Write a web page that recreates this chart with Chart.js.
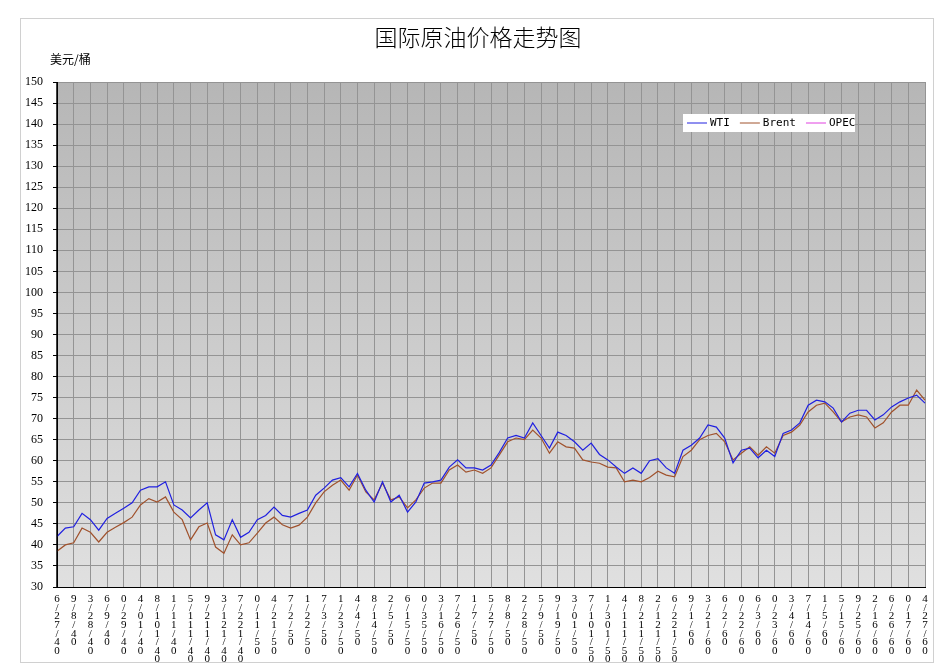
<!DOCTYPE html>
<html><head><meta charset="utf-8">
<script src="https://cdn.jsdelivr.net/npm/chart.js@4"></script>
<style>html,body{margin:0;padding:0;background:#fff}#w{width:950px;height:672px}</style>
</head><body><div id="w"><canvas id="c"></canvas></div>
<script>
const dateLabels = ["6/27/40","9/8/40","3/28/40","6/9/40","0/29/40","4/01/40","8/101/40","1/11/40","5/111/40","9/211/40","3/121/40","7/221/40","0/11/50","4/21/50","7/2/50","1/22/50","7/3/50","1/23/50","4/4/50","8/14/50","2/5/50","6/15/50","0/35/50","3/16/50","7/26/50","1/7/50","5/27/50","8/8/50","2/28/50","5/9/50","9/19/50","3/01/50","7/101/50","1/301/50","4/111/50","8/211/50","2/121/50","6/221/50","9/1/60","3/21/60","6/2/60","0/22/60","6/3/60","0/23/60","3/4/60","7/14/60","1/5/60","5/15/60","9/25/60","2/16/60","6/26/60","0/17/60","4/27/60"];
const wti = [42,44,44.3,47.5,46,43.5,46.3,47.5,48.7,50,53,53.8,53.8,55,49.5,48.3,46.4,48.3,50,42.4,41.2,46,41.8,43,46,47,49,47,46.6,47.5,48.3,51.8,53.5,55.4,56,53.8,57,53,50.2,55,50.2,51.8,47.8,50.2,54.7,55,55.4,58.5,60.2,58.3,58.3,57.8,59,62,65.4,66,65.4,69,66,63,66.8,66,64.5,62.5,64.2,61.5,60.2,58.5,57,58.3,57,60,60.5,58.3,57,62.5,63.7,65.4,68.5,68,65.4,59.5,62.5,63,60.7,62.5,61,66.5,67.3,69,73.2,74.4,74,72.5,69.2,71.3,72,72,69.7,70.9,72.8,74,74.9,75.6,73.7];
const brent = [38.5,40,40.5,44,43,40.7,43,44.2,45.3,46.6,49.5,51,50.2,51.4,47.8,46,41.2,44.3,45.2,39.5,38,42.4,40,40.5,42.8,45.2,46.6,44.8,44,44.7,46.6,50,52.6,54.2,55.4,53,56.6,52.6,50.7,54.7,50.7,51.4,48.8,50.7,53.5,54.7,54.7,57.8,59,57.3,57.8,57,58.3,61.4,64.5,65.4,65,67.3,65.4,61.8,64.5,63.3,63,60.2,59.7,59.4,58.5,58.3,55,55.4,55,56,57.5,56.6,56.2,61,62.5,65,66,66.5,64.5,60.2,61.8,63.3,61.3,63.3,61.8,66,66.8,68.5,71.6,73.2,73.7,71.6,69.2,70.4,70.9,70.4,67.8,69,71.6,73.2,73.2,76.8,74.4];
const opec = [];
const seriesNames = ["WTI","Brent","OPEC"];
const yMin = 30, yMax = 150, yStep = 5;
const titleText = "国际原油价格走势图";
const unitText = "美元/桶";

const labels = wti.map((_, i) => i % 2 === 0 ? dateLabels[i / 2] : "");

const deco = {
  id: 'deco',
  beforeDraw(ch) {
    const c = ch.ctx, a = ch.chartArea;
    c.save();
    c.fillStyle = '#fff'; c.fillRect(0, 0, ch.width, ch.height);
    c.strokeStyle = '#d0d0d0'; c.lineWidth = 1; c.strokeRect(20.5, 18.5, 913, 644);
    const g = c.createLinearGradient(0, a.top, 0, a.bottom);
    g.addColorStop(0, '#b6b6b6'); g.addColorStop(1, '#e0e0e0');
    c.fillStyle = g; c.fillRect(a.left, a.top, a.right - a.left, a.bottom - a.top);
    c.fillStyle = '#000'; c.textAlign = 'center'; c.textBaseline = 'middle';
    c.font = '300 23px "Noto Sans CJK SC"'; c.fillText(titleText, 478, 37);
    c.font = '12px "Noto Sans CJK SC"'; c.textAlign = 'left'; c.fillText(unitText, 50, 59);
    c.restore();
  },
  afterDraw(ch) {
    const c = ch.ctx, a = ch.chartArea;
    c.save();
    c.strokeStyle = '#000'; c.lineWidth = 1.5;
    c.beginPath(); c.moveTo(a.left, a.top); c.lineTo(a.left, a.bottom); c.stroke();
    c.fillStyle = '#fff'; c.fillRect(683, 114, 172, 18);
    c.font = '11px "DejaVu Sans Mono"'; c.textBaseline = 'middle'; c.textAlign = 'left';
    let x = 687;
    ch.data.datasets.forEach(d => {
      c.strokeStyle = d.borderColor; c.lineWidth = 1;
      c.beginPath(); c.moveTo(x, 123); c.lineTo(x + 20, 123); c.stroke();
      c.fillStyle = '#000'; c.fillText(d.label, x + 23, 123);
      x += 23 + c.measureText(d.label).width + 10;
    });
    c.restore();
  }
};

new Chart(document.getElementById('c'), {
  type: 'line',
  data: {
    labels,
    datasets: [
      { label: seriesNames[0], data: wti, borderColor: '#2020e0', borderWidth: 1.2, pointRadius: 0, tension: 0 },
      { label: seriesNames[1], data: brent, borderColor: '#a0522d', borderWidth: 1.2, pointRadius: 0, tension: 0 },
      { label: seriesNames[2], data: opec, borderColor: '#e040e0', borderWidth: 1.2, pointRadius: 0 }
    ]
  },
  options: {
    responsive: true, maintainAspectRatio: false, animation: false,
    layout: { padding: { left: 0, top: 82, right: 25, bottom: 0 } },
    plugins: { legend: { display: false }, tooltip: { enabled: false } },
    scales: {
      x: {
        offset: false,
        grid: { color: ctx => (ctx.index % 2 === 0 ? '#949494' : 'rgba(0,0,0,0)'), lineWidth: 1, drawTicks: false },
        border: { display: true, color: '#000' },
        afterFit(s) { s.height = 85; },
        ticks: {
          autoSkip: false, maxRotation: 0, minRotation: 0, padding: 8,
          color: '#000', font: { family: 'Liberation Serif', size: 11, lineHeight: 0.78 },
          callback(v, i) { const l = this.getLabelForValue(v); return l ? l.split('') : ''; }
        }
      },
      y: {
        min: yMin, max: yMax,
        grid: { color: '#949494', lineWidth: 1, drawTicks: true, tickLength: 4, tickColor: '#000' },
        border: { display: true, color: '#000' },
        afterFit(s) { s.width = 57; },
        ticks: { stepSize: yStep, color: '#000', padding: 10, font: { family: 'Liberation Serif', size: 12 } }
      }
    }
  },
  plugins: [deco]
});
</script></body></html>
